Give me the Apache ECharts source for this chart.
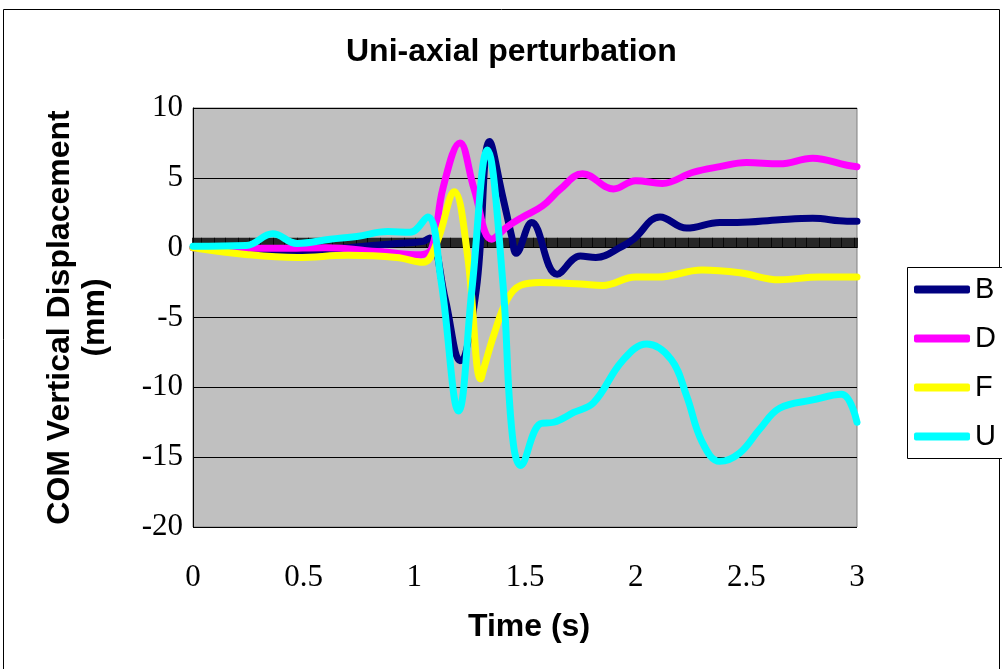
<!DOCTYPE html>
<html>
<head>
<meta charset="utf-8">
<title>Uni-axial perturbation</title>
<script src="https://cdn.jsdelivr.net/npm/echarts/dist/echarts.min.js"></script>
<style>
	html, body { margin: 0; padding: 0; background: #fff; }
	#main { width: 1002px; height: 669px; }
</style>
</head>
<body>
<div id="main"></div>
<script>
// values (time in s, displacement in mm)
var tB = [0, 0.2, 0.44, 0.7, 0.92, 1.04, 1.07, 1.14, 1.206, 1.28, 1.34, 1.4, 1.44, 1.46, 1.53, 1.645, 1.75, 1.82, 1.94, 1.99, 2.11, 2.23, 2.38, 2.46, 2.65, 2.8, 2.955, 3.0];
var vB = [0, -0.1, -0.3, 0, 0.3, 0.45, 0.7, -3.7, -8.1, -3, 7.6, 3.6, 0.8, -0.4, 1.8, -1.9, -0.6, -0.7, 0.1, 0.6, 2.2, 1.4, 1.8, 1.8, 2.0, 2.1, 1.9, 1.9];

var tD = [0, 0.39, 0.6, 0.85, 1.03, 1.08, 1.13, 1.206, 1.27, 1.35, 1.42, 1.49, 1.58, 1.66, 1.76, 1.9, 2.0, 2.12, 2.26, 2.38, 2.5, 2.65, 2.8, 2.955, 3.0];
var vD = [0, -0.05, 0, -0.3, -0.5, 0, 4.3, 7.5, 4.2, 0.6, 1.5, 2.2, 3, 4.2, 5.3, 4.2, 4.8, 4.6, 5.4, 5.8, 6.1, 6.0, 6.4, 5.9, 5.8];

var tF = [0, 0.25, 0.47, 0.7, 0.92, 1.04, 1.1, 1.18, 1.24, 1.3, 1.315, 1.36, 1.42, 1.48, 1.57, 1.75, 1.85, 2.0, 2.1, 2.3, 2.47, 2.65, 2.83, 3.0];
var vF = [0, -0.5, -0.7, -0.55, -0.7, -1.05, 0.3, 4.0, -0.5, -9.4, -8.6, -6.2, -3.7, -2.7, -2.5, -2.6, -2.7, -2.1, -2.1, -1.6, -1.8, -2.3, -2.1, -2.1];

var tU = [0, 0.24, 0.36, 0.47, 0.62, 0.74, 0.88, 0.98, 1.06, 1.12, 1.2, 1.26, 1.33, 1.4, 1.44, 1.48, 1.57, 1.63, 1.72, 1.81, 1.94, 2.05, 2.16, 2.23, 2.3, 2.38, 2.47, 2.56, 2.65, 2.8, 2.93, 3.0];
var vU = [0.1, 0.15, 1.0, 0.3, 0.6, 0.8, 1.15, 1.1, 2.2, -2.3, -11.7, -3, 7.0, -2.5, -13, -15.6, -12.6, -12.5, -11.8, -11.1, -8.1, -6.9, -8.0, -10.6, -13.9, -15.3, -14.7, -13.0, -11.5, -10.9, -10.5, -12.5];

var names = ['B', 'D', 'F', 'U'];
var colors = ['#000080', '#ff00ff', '#ffff00', '#00ffff'];

function pairs(t, v) {
	var out = [];
	for (var i = 0; i < t.length; i++) {
		out.push([t[i], v[i]]);
	}
	return out;
}

var seriesData = [pairs(tB, vB), pairs(tD, vD), pairs(tF, vF), pairs(tU, vU)];

var myChart = echarts.init(document.getElementById('main'), null, { renderer: 'canvas' });

var series = [];
for (var i = 0; i < names.length; i++) {
	series.push({
		name: names[i],
		type: 'line',
		xAxisIndex: 0,
		data: seriesData[i],
		smooth: 0.4,
		showSymbol: false,
		symbol: 'none',
		color: colors[i],
		lineStyle: { width: 7, color: colors[i], cap: 'round', join: 'round' }
	});
}

var option = {
	backgroundColor: '#fff',
	animation: false,
	title: {
		text: 'Uni-axial perturbation',
		left: 341,
		top: 31,
		textStyle: { fontFamily: 'Liberation Sans', fontWeight: 'bold', fontSize: 32, color: '#000' }
	},
	graphic: [{
		type: 'rect',
		shape: { x: 3.5, y: 9.5, width: 996, height: 680 },
		style: { fill: 'none', stroke: '#000', lineWidth: 1 },
		z: -1
	}, {
		type: 'rect',
		shape: { x: 907.5, y: 267.5, width: 120, height: 191 },
		style: { fill: '#fff', stroke: '#000', lineWidth: 1 },
		z: 1
	}],
	legend: {
		orient: 'vertical',
		left: 914,
		top: 275,
		padding: 0,
		itemWidth: 56,
		itemHeight: 8,
		itemGap: 20,
		icon: 'roundRect',
		data: names,
		z: 5,
		textStyle: { fontFamily: 'Liberation Sans', fontSize: 29, lineHeight: 28, color: '#000', padding: [0, 0, 0, 0] }
	},
	grid: {
		left: 193,
		top: 108,
		width: 664,
		height: 419,
		show: true,
		backgroundColor: '#c0c0c0',
		borderColor: '#808080',
		borderWidth: 1
	},
	xAxis: [{
		type: 'value',
		min: 0,
		max: 3,
		interval: 0.5,
		name: 'Time (s)',
		nameLocation: 'middle',
		nameGap: 84,
		nameTextStyle: { fontFamily: 'Liberation Sans', fontWeight: 'bold', fontSize: 32, color: '#000', padding: [0, 0, 0, 8] },
		axisLine: { show: false, onZero: false },
		axisTick: { show: false },
		splitLine: { show: false },
		axisLabel: { margin: 35, fontFamily: 'Liberation Serif', fontSize: 31, color: '#000' }
	}, {
		type: 'value',
		min: 0,
		max: 3,
		interval: 0.5,
		position: 'bottom',
		axisLine: { show: true, onZero: true, lineStyle: { color: '#000', width: 1 } },
		axisTick: { show: true, inside: true, length: 10, lineStyle: { color: '#000', width: 1.6 } },
		minorTick: { show: true, splitNumber: 60, length: 10, lineStyle: { color: '#000', width: 1.6 } },
		axisLabel: { show: false },
		splitLine: { show: false }
	}],
	yAxis: {
		type: 'value',
		min: -20,
		max: 10,
		interval: 5,
		name: 'COM Vertical Displacement\n(mm)',
		nameLocation: 'middle',
		nameRotate: 90,
		nameGap: 80,
		nameTextStyle: { fontFamily: 'Liberation Sans', fontWeight: 'bold', fontSize: 32, lineHeight: 35, color: '#000' },
		axisLine: { show: true, lineStyle: { color: '#000', width: 1 } },
		axisTick: { show: true, inside: true, length: 8, lineStyle: { color: '#000' } },
		splitLine: { show: true, lineStyle: { color: '#000', width: 1 } },
		axisLabel: { margin: 10, fontFamily: 'Liberation Serif', fontSize: 31, color: '#000' }
	},
	series: series
};

myChart.setOption(option);
</script>
</body>
</html>
